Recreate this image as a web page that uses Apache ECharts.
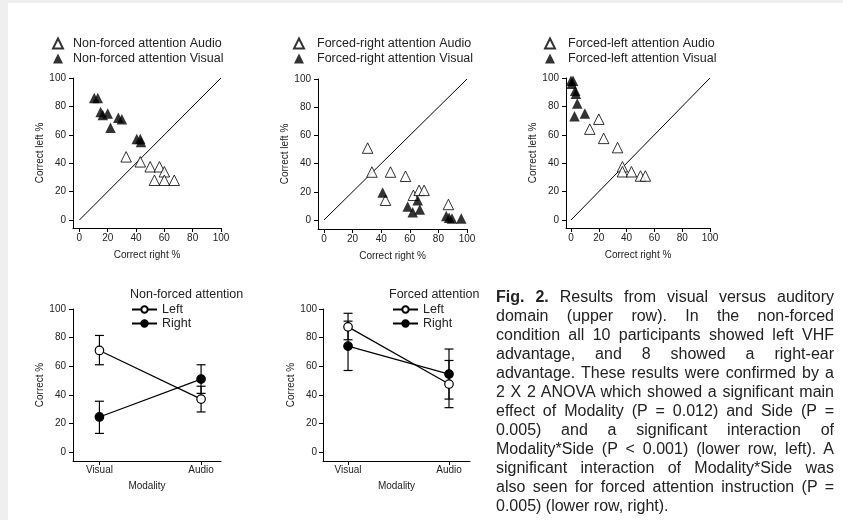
<!DOCTYPE html>
<html>
<head>
<meta charset="utf-8">
<script src="https://cdn.jsdelivr.net/npm/echarts@6/dist/echarts.min.js"></script>
<style>
  html, body { margin: 0; padding: 0; background: #efefef; }
  #page { position: absolute; left: 8px; top: 3px; width: 835px; height: 517px; background: #fff; }
  #chart { position: absolute; left: 0; top: 0; width: 843px; height: 520px; }
  #caption {
    position: absolute; left: 496px; top: 287px; width: 338px;
    font-family: "Liberation Sans", Arial, sans-serif; font-size: 16px; line-height: 19px;
    color: #222;
  }
  #caption div { white-space: nowrap; text-align: justify; text-align-last: justify; }
  #caption div.last { text-align-last: left; }
</style>
</head>
<body>
<div id="page"></div>
<div id="chart"></div>
<div id="caption">
  <div><b>Fig. 2.</b> Results from visual versus auditory</div>
  <div>domain (upper row). In the non-forced</div>
  <div>condition all 10 participants showed left VHF</div>
  <div>advantage, and 8 showed a right-ear</div>
  <div>advantage. These results were confirmed by a</div>
  <div>2 X 2 ANOVA which showed a significant main</div>
  <div>effect of Modality (P = 0.012) and Side (P =</div>
  <div>0.005) and a significant interaction of</div>
  <div>Modality*Side (P &lt; 0.001) (lower row, left). A</div>
  <div>significant interaction of Modality*Side was</div>
  <div>also seen for forced attention instruction (P =</div>
  <div class="last">0.005) (lower row, right).</div>
</div>
<script>
// upper row: [correct right %, correct left %] per participant
const nfAudio = [[33, 44.5], [43, 41], [50, 37.5], [56.5, 37.5], [60, 34], [53, 28], [60, 28], [67, 28]];
const nfVisual = [[10.5, 86], [13, 86], [15, 76], [16.5, 74], [20, 75], [22, 65], [27.5, 72], [30, 71], [40.5, 57], [43, 57], [43.5, 55]];
const frAudio = [[30.5, 51], [33.5, 34], [46.5, 34], [57, 31], [62.5, 17.5], [66.5, 21], [70, 21], [43, 14], [87, 11]];
const frVisual = [[41, 19.5], [58.5, 9.5], [62, 5.5], [65.5, 14], [67, 7.5], [85.5, 2.8], [87.5, 1.5], [89.5, 1], [96, 1]];
const flAudio = [[20, 71], [13.5, 64], [23.5, 57.5], [33.5, 51], [37, 37.5], [37, 34], [43.5, 34], [50, 31], [53.5, 31]];
const flVisual = [[0, 98], [1.5, 98], [0.5, 96], [3, 91], [3.5, 89], [4.5, 82], [10, 75], [2.5, 73]];
const diagonal = [[0, 0], [100, 100]];
const pctTicks = [0, 20, 40, 60, 80, 100];

// lower row: means and error bar ends, by modality
const modality = ["Visual", "Audio"];
const nfLeft = [71, 37], nfLeftLow = [61, 28], nfLeftHigh = [81.5, 46];
const nfRight = [24.5, 51], nfRightLow = [13, 41], nfRightHigh = [35.5, 61];
const fLeft = [87.5, 47.5], fLeftLow = [78.5, 31], fLeftHigh = [97, 64];
const fRight = [74, 54.5], fRightLow = [57, 37], fRightHigh = [91.5, 72];

const ink = "#222";
const font = "'Liberation Sans', Arial, sans-serif";

let myChart = echarts.init(document.getElementById("chart"));

function axis(gridIndex, min, max, ticks, name, gap, margin, fmt) {
    return {
        type: "value", gridIndex: gridIndex, min: min, max: max,
        name: name, nameLocation: "middle", nameGap: gap,
        nameTextStyle: { color: ink, fontSize: 10 },
        axisLine: { show: true, onZero: false, lineStyle: { color: "#000", width: 1 } },
        axisTick: { show: true, length: 4, customValues: ticks, lineStyle: { color: "#000" } },
        axisLabel: { customValues: ticks, color: ink, fontSize: 10, margin: margin, formatter: fmt },
        splitLine: { show: false },
    };
}

function pts(vals) {
    return vals.map((v, i) => [i, v]);
}
function bars(lo, hi) {
    return lo.map((v, i) => [i, v, hi[i]]);
}

function errorBars(xi, yi, data) {
    return {
        type: "custom", xAxisIndex: xi, yAxisIndex: yi, data: data, z: 3,
        renderItem: function (params, api) {
            const a = api.coord([api.value(0), api.value(1)]);
            const b = api.coord([api.value(0), api.value(2)]);
            const w = 4.5;
            const st = { stroke: "#000", lineWidth: 1.2 };
            return {
                type: "group",
                children: [
                    { type: "line", shape: { x1: a[0], y1: a[1], x2: b[0], y2: b[1] }, style: st },
                    { type: "line", shape: { x1: a[0] - w, y1: a[1], x2: a[0] + w, y2: a[1] }, style: st },
                    { type: "line", shape: { x1: b[0] - w, y1: b[1], x2: b[0] + w, y2: b[1] }, style: st },
                ],
            };
        },
    };
}

function scatter(name, idx, data, filled) {
    return {
        name: name, type: "scatter", xAxisIndex: idx, yAxisIndex: idx, data: data,
        symbol: "triangle", symbolSize: 10.5, z: 4,
        itemStyle: filled ? { color: "#000" } : { color: "#fff", borderColor: "#000", borderWidth: 1 },
    };
}

function diag(idx) {
    return {
        type: "line", xAxisIndex: idx, yAxisIndex: idx, data: diagonal, symbol: "none",
        lineStyle: { color: "#000", width: 1 }, z: 2, silent: true,
    };
}

function means(name, idx, data, filled) {
    return {
        name: name, type: "line", xAxisIndex: idx, yAxisIndex: idx, data: data,
        symbol: "circle", symbolSize: 8.5, z: 4,
        lineStyle: { color: "#000", width: 1.2 },
        itemStyle: { color: filled ? "#000" : "#fff", borderColor: "#000", borderWidth: 1.2 },
    };
}

function legend(names, left, top, w, h, gap, textPad) {
    return {
        data: names, orient: "vertical", left: left, top: top, padding: 0,
        itemWidth: w, itemHeight: h, itemGap: gap,
        textStyle: { color: ink, fontSize: 12.5, lineHeight: 13, padding: [0, 0, 0, textPad] },
    };
}

const modFmt = (v) => modality[v];

let option = {
    animation: false,
    textStyle: { fontFamily: font },
    grid: [
        { left: 73, top: 78, width: 148, height: 150 },
        { left: 318, top: 79, width: 149, height: 150 },
        { left: 566, top: 78, width: 144, height: 150 },
        { left: 73, top: 309, width: 148, height: 152 },
        { left: 323, top: 309, width: 147, height: 152 },
    ],
    xAxis: [
        axis(0, -4.5, 100, pctTicks, "Correct right %", 22, 5),
        axis(1, -4.2, 100, pctTicks, "Correct right %", 22, 5),
        axis(2, -3.6, 100, pctTicks, "Correct right %", 22, 5),
        axis(3, -0.26, 1.196, [0, 1], "Modality", 20, 4, modFmt),
        axis(4, -0.248, 1.208, [0, 1], "Modality", 20, 4, modFmt),
    ],
    yAxis: [
        axis(0, -5.6, 100, pctTicks, "Correct left %", 23, 7),
        axis(1, -6.4, 100, pctTicks, "Correct left %", 23, 7),
        axis(2, -5.6, 100, pctTicks, "Correct left %", 23, 7),
        axis(3, -6.3, 100, pctTicks, "Correct %", 14, 7),
        axis(4, -6.3, 100, pctTicks, "Correct %", 21, 6),
    ],
    legend: [
        legend(["Non-forced attention Audio", "Non-forced attention Visual"], 52, 37, 10, 10, 2, 5),
        legend(["Forced-right attention Audio", "Forced-right attention Visual"], 293, 37, 10, 10, 2, 8),
        legend(["Forced-left attention Audio", "Forced-left attention Visual"], 544, 37, 10, 10, 2, 8),
        legend(["Left", "Right"], 131, 303, 25, 8, 1, 0),
        legend(["Left", "Right"], 392, 303, 25, 8, 1, 0),
    ],
    graphic: [
        { type: "text", left: 130, top: 288, style: { text: "Non-forced attention", fill: ink, fontSize: 12.5, fontFamily: font } },
        { type: "text", left: 389, top: 288, style: { text: "Forced attention", fill: ink, fontSize: 12.5, fontFamily: font } },
    ],
    series: [
        diag(0), diag(1), diag(2),
        scatter("Non-forced attention Audio", 0, nfAudio, false),
        scatter("Non-forced attention Visual", 0, nfVisual, true),
        scatter("Forced-right attention Audio", 1, frAudio, false),
        scatter("Forced-right attention Visual", 1, frVisual, true),
        scatter("Forced-left attention Audio", 2, flAudio, false),
        scatter("Forced-left attention Visual", 2, flVisual, true),
        errorBars(3, 3, bars(nfLeftLow, nfLeftHigh)),
        errorBars(3, 3, bars(nfRightLow, nfRightHigh)),
        errorBars(4, 4, bars(fLeftLow, fLeftHigh)),
        errorBars(4, 4, bars(fRightLow, fRightHigh)),
        means("Left", 3, pts(nfLeft), false),
        means("Right", 3, pts(nfRight), true),
        means("Left", 4, pts(fLeft), false),
        means("Right", 4, pts(fRight), true),
    ],
};

myChart.setOption(option);
window.addEventListener("resize", function () {
    myChart.resize();
});
</script>
</body>
</html>
